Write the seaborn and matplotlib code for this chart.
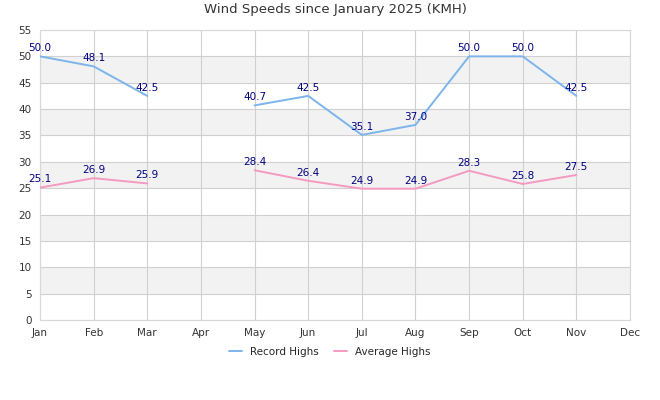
import numpy as np
import pandas as pd
import matplotlib
matplotlib.use('Agg')
import matplotlib.pyplot as plt
from matplotlib.lines import Line2D
import seaborn as sns

months = ['Jan', 'Feb', 'Mar', 'Apr', 'May', 'Jun', 'Jul', 'Aug', 'Sep', 'Oct', 'Nov', 'Dec']
record_highs = [50.0, 48.1, 42.5, np.nan, 40.7, 42.5, 35.1, 37.0, 50.0, 50.0, 42.5, np.nan]
average_highs = [25.1, 26.9, 25.9, np.nan, 28.4, 26.4, 24.9, 24.9, 28.3, 25.8, 27.5, np.nan]

series = {'Record Highs': record_highs, 'Average Highs': average_highs}
colors = {'Record Highs': '#7cb5ec', 'Average Highs': '#f49ac2'}

# long-form frame, with a segment id so missing months break the line
rows = []
for name, vals in series.items():
    seg = 0
    for i, v in enumerate(vals):
        if np.isnan(v):
            seg += 1
            continue
        rows.append({'x': i, 'value': v, 'series': name, 'seg': seg})
df = pd.DataFrame(rows)

sns.set_style('white')
plt.rcParams['font.family'] = ['DejaVu Sans']
fig = plt.figure(figsize=(6.6, 4), dpi=100)
ax = fig.add_axes([40 / 660, 80 / 400, 590 / 660, 290 / 400])

# alternating bands
for lo in range(5, 55, 10):
    ax.axhspan(lo, lo + 5, color='#f2f2f2', zorder=0, lw=0)

sns.lineplot(data=df, x='x', y='value', hue='series', units='seg', estimator=None,
             palette=colors, lw=1.4, ax=ax, legend=False, zorder=3)

for name, vals in series.items():
    for i, v in enumerate(vals):
        if not np.isnan(v):
            ax.text(i, v + 0.6, f'{v:.1f}', ha='center', va='bottom',
                    fontsize=7.5, color='#000080', zorder=4)

ax.set_xlim(0, 11)
ax.set_ylim(0, 55)
ax.set_xticks(range(12))
ax.set_xticklabels(months)
ax.set_yticks(range(0, 56, 5))
ax.tick_params(labelsize=7.5, colors='#333333', length=0, pad=6)
ax.grid(True, color='#d0d0d0', lw=0.8)
ax.set_axisbelow(True)
for s in ax.spines.values():
    s.set_color('#d8d8d8')
    s.set_linewidth(0.8)
ax.set_xlabel('')
ax.set_ylabel('')
ax.set_title('Wind Speeds since January 2025 (KMH)', fontsize=9.5, color='#333333', pad=12)

handles = [Line2D([0], [0], color=colors[n], lw=1.4) for n in series]
fig.legend(handles, list(series.keys()), loc='center', bbox_to_anchor=(0.5, 1 - 352 / 400),
           ncol=2, frameon=False, fontsize=7.5, handlelength=1.2, columnspacing=1.5, handletextpad=0.8)

fig.savefig('out.png', dpi=100)
